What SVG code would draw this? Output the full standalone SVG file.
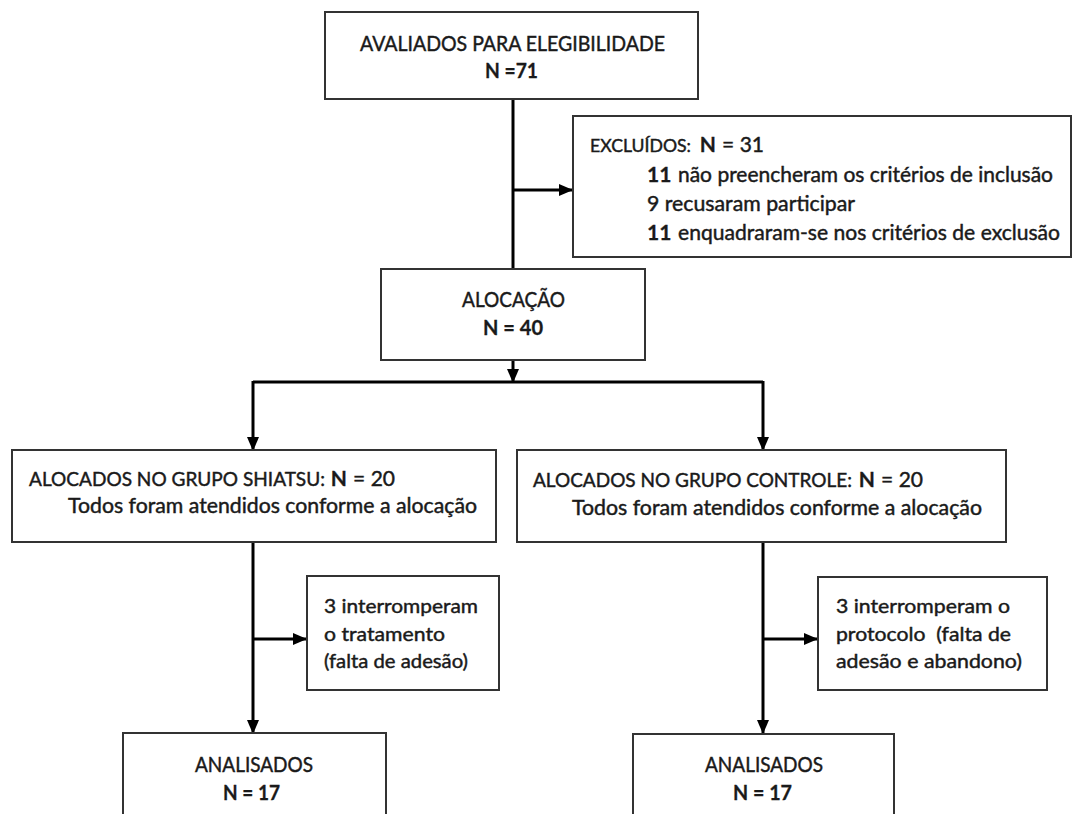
<svg xmlns="http://www.w3.org/2000/svg" width="1075" height="814" viewBox="0 0 1075 814">
<style>
.box{fill:#fff;stroke:#333;stroke-width:2}
.t{font-family:Lato,"Liberation Sans",sans-serif;font-size:21px;fill:#1a1a1a;stroke:#1a1a1a;stroke-width:0.45}
.s{font-size:20px}
.p{font-size:19.5px}
.q{font-size:18px}
.b{font-weight:bold;stroke-width:0.3}
.e{text-anchor:end}
.ln{stroke:#000;stroke-width:3;fill:none}
</style>
<defs>
<marker id="ah" markerUnits="userSpaceOnUse" markerWidth="14" markerHeight="12" refX="13" refY="6" orient="auto">
<path d="M0,0 L14,6 L0,12 Z" fill="#000"/>
</marker>
</defs>
<rect width="1075" height="814" fill="#fff"/>
<g id="connectors">
<line class="ln" x1="513" y1="99" x2="513" y2="269"/>
<line class="ln" x1="513" y1="190" x2="572" y2="190" marker-end="url(#ah)"/>
<line class="ln" x1="513" y1="360" x2="513" y2="382" marker-end="url(#ah)"/>
<line class="ln" x1="253" y1="382" x2="763" y2="382"/>
<line class="ln" x1="253" y1="381" x2="253" y2="450" marker-end="url(#ah)"/>
<line class="ln" x1="763" y1="381" x2="763" y2="450" marker-end="url(#ah)"/>
<line class="ln" x1="253" y1="542" x2="253" y2="733" marker-end="url(#ah)"/>
<line class="ln" x1="253" y1="639" x2="306" y2="639" marker-end="url(#ah)"/>
<line class="ln" x1="763" y1="542" x2="763" y2="733" marker-end="url(#ah)"/>
<line class="ln" x1="763" y1="639" x2="817" y2="639" marker-end="url(#ah)"/>
</g>
<g id="avaliados">
<rect class="box" x="325" y="12" width="373" height="87"/>
<text class="t" x="360" y="51" textLength="305" lengthAdjust="spacingAndGlyphs">AVALIADOS PARA ELEGIBILIDADE</text>
<text class="t b" x="485" y="78" textLength="53" lengthAdjust="spacingAndGlyphs">N =71</text>
</g>
<g id="excluidos">
<rect class="box" x="573" y="116" width="498" height="141"/>
<text class="t q" x="590" y="152" textLength="101" lengthAdjust="spacingAndGlyphs">EXCLUÍDOS:</text>
<text class="t b e" x="716" y="152">N</text>
<text class="t e" x="764" y="152">= 31</text>
<text class="t b" x="647" y="182">11</text>
<text class="t" x="678" y="182" textLength="375" lengthAdjust="spacingAndGlyphs">não preencheram os critérios de inclusão</text>
<text class="t" x="647" y="211" textLength="208" lengthAdjust="spacingAndGlyphs">9 recusaram participar</text>
<text class="t b" x="647" y="240">11</text>
<text class="t" x="678" y="240" textLength="382" lengthAdjust="spacingAndGlyphs">enquadraram-se nos critérios de exclusão</text>
</g>
<g id="alocacao">
<rect class="box" x="381" y="269" width="264" height="91"/>
<text class="t" x="462" y="307" textLength="103" lengthAdjust="spacingAndGlyphs">ALOCAÇÃO</text>
<text class="t b" x="483" y="335" textLength="60" lengthAdjust="spacingAndGlyphs">N = 40</text>
</g>
<g id="shiatsu">
<rect class="box" x="12" y="450" width="484" height="92"/>
<text class="t p" x="29" y="486" textLength="296" lengthAdjust="spacingAndGlyphs">ALOCADOS NO GRUPO SHIATSU:</text>
<text class="t b e" x="347" y="486">N</text>
<text class="t e" x="395" y="486">= 20</text>
<text class="t" x="68" y="513" textLength="409" lengthAdjust="spacingAndGlyphs">Todos foram atendidos conforme a alocação</text>
</g>
<g id="controle">
<rect class="box" x="517" y="450" width="489" height="92"/>
<text class="t p" x="533" y="487" textLength="319" lengthAdjust="spacingAndGlyphs">ALOCADOS NO GRUPO CONTROLE:</text>
<text class="t b e" x="875" y="487">N</text>
<text class="t e" x="923" y="487">= 20</text>
<text class="t" x="572" y="515" textLength="410" lengthAdjust="spacingAndGlyphs">Todos foram atendidos conforme a alocação</text>
</g>
<g id="interromperam-shiatsu">
<rect class="box" x="307" y="576" width="192" height="114"/>
<text class="t s" x="324" y="613" textLength="154" lengthAdjust="spacingAndGlyphs">3 interromperam</text>
<text class="t s" x="324" y="641" textLength="121" lengthAdjust="spacingAndGlyphs">o tratamento</text>
<text class="t s" x="324" y="668" textLength="144" lengthAdjust="spacingAndGlyphs">(falta de adesão)</text>
</g>
<g id="interromperam-controle">
<rect class="box" x="818" y="577" width="229" height="113"/>
<text class="t s" x="836" y="613" textLength="174" lengthAdjust="spacingAndGlyphs">3 interromperam o</text>
<text class="t s" x="836" y="641" textLength="175" lengthAdjust="spacingAndGlyphs" xml:space="preserve">protocolo  (falta de</text>
<text class="t s" x="836" y="668" textLength="186" lengthAdjust="spacingAndGlyphs">adesão e abandono)</text>
</g>
<g id="analisados-shiatsu">
<rect class="box" x="123" y="733" width="263" height="100"/>
<text class="t" x="195" y="772" textLength="118" lengthAdjust="spacingAndGlyphs">ANALISADOS</text>
<text class="t b" x="223" y="800" textLength="57" lengthAdjust="spacingAndGlyphs">N = 17</text>
</g>
<g id="analisados-controle">
<rect class="box" x="633" y="734" width="261" height="100"/>
<text class="t" x="705" y="772" textLength="118" lengthAdjust="spacingAndGlyphs">ANALISADOS</text>
<text class="t b" x="733" y="800" textLength="59" lengthAdjust="spacingAndGlyphs">N = 17</text>
</g>
</svg>
